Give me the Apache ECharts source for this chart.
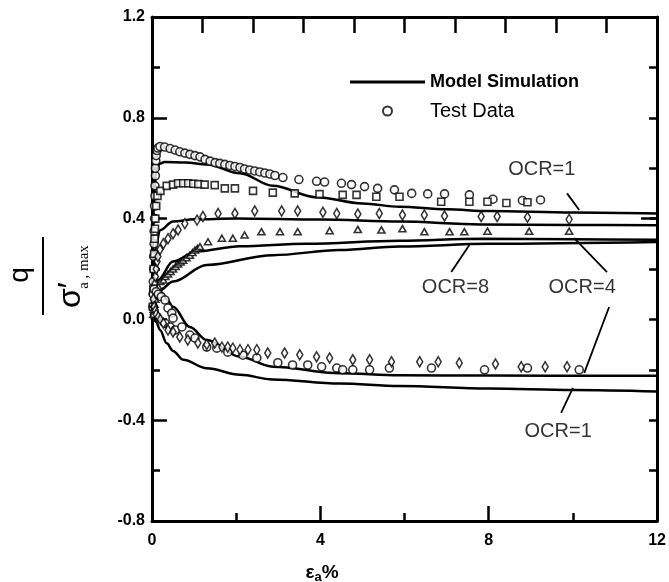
<!DOCTYPE html>
<html><head><meta charset="utf-8">
<script src="https://cdn.jsdelivr.net/npm/echarts@6/dist/echarts.min.js"></script>
<style>html,body{margin:0;padding:0;background:#fff}#c{width:669px;height:582px}</style>
</head><body><div id="c"></div>
<script>
// ---------- axis ticks ----------
const xMin = 0, xMax = 12, xStep = 4;
const yMin = -0.8, yMax = 1.2, yStep = 0.4;

// ---------- model simulation curves (x = axial strain %, y = q / sigma'a,max) ----------
const modelOCR1Comp = [[0,0],[0.02,0.3],[0.05,0.5],[0.1,0.59],[0.18,0.618],[0.3,0.625],[0.8,0.623],[1.3,0.615],[2.09,0.58],[2.87,0.53],[3.9,0.485],[5.0,0.46],[5.88,0.447],[7,0.437],[8,0.43],[10,0.424],[12,0.42]];
const modelOCR4Comp = [[0,0],[0.03,0.15],[0.08,0.28],[0.19,0.354],[0.5,0.388],[1.0,0.397],[2,0.4],[4,0.396],[5.88,0.388],[7.8,0.377],[10,0.375],[12,0.374]];
const modelOCR8Comp = [[0,0],[0.05,0.1],[0.14,0.156],[0.5,0.23],[1.07,0.27],[2.09,0.29],[3.67,0.30],[5.88,0.312],[7.8,0.32],[10,0.318],[12,0.316]];
const modelLowComp = [[0.05,0.1],[0.19,0.117],[0.5,0.15],[1.3,0.216],[2.87,0.255],[4.46,0.275],[5.88,0.289],[8,0.30],[12,0.307]];
const modelOCR4Ext = [[0.05,0.13],[0.2,0.11],[0.35,0.08],[0.5,0.05],[0.9,-0.03],[1.3,-0.082],[2.09,-0.148],[2.87,-0.188],[4.46,-0.214],[5.88,-0.222],[8,-0.223],[12,-0.224]];
const modelOCR1Ext = [[0,0.02],[0.1,-0.01],[0.19,-0.042],[0.35,-0.095],[0.5,-0.125],[0.74,-0.16],[1.3,-0.194],[2.09,-0.22],[2.87,-0.238],[4.46,-0.254],[5.88,-0.264],[8,-0.274],[10,-0.28],[12,-0.286]];
const modelOCR2Tail = [[11.62,0.40],[12,0.40]];

// ---------- test data ----------
const dataOCR1Comp = [[0.02,0.05],[0.03,0.1],[0.03,0.15],[0.04,0.2],[0.04,0.25],[0.05,0.3],[0.05,0.35],[0.06,0.4],[0.06,0.45],[0.07,0.49],[0.07,0.53],[0.08,0.57],[0.08,0.6],[0.09,0.63],[0.1,0.65],[0.12,0.67],[0.14,0.68],[0.19,0.686],[0.3,0.684],[0.43,0.678],[0.55,0.672],[0.66,0.665],[0.78,0.66],[0.9,0.655],[1.02,0.65],[1.14,0.645],[1.26,0.635],[1.38,0.628],[1.5,0.622],[1.61,0.619],[1.73,0.615],[1.85,0.611],[1.97,0.607],[2.09,0.603],[2.2,0.597],[2.32,0.593],[2.44,0.589],[2.56,0.585],[2.68,0.581],[2.8,0.577],[2.92,0.571],[3.11,0.563],[3.49,0.555],[3.91,0.548],[4.1,0.545],[4.5,0.54],[4.74,0.535],[5.05,0.527],[5.36,0.52],[5.76,0.514],[6.17,0.50],[6.55,0.498],[6.95,0.498],[7.54,0.494],[8.1,0.477],[8.8,0.472],[9.23,0.474]];
const dataOCR2Comp = [[0.02,0.05],[0.03,0.12],[0.04,0.2],[0.05,0.26],[0.06,0.32],[0.07,0.36],[0.08,0.4],[0.1,0.45],[0.13,0.49],[0.2,0.51],[0.35,0.53],[0.5,0.535],[0.62,0.54],[0.74,0.54],[0.86,0.54],[0.98,0.538],[1.1,0.537],[1.25,0.535],[1.49,0.533],[1.73,0.52],[1.97,0.52],[2.4,0.51],[2.87,0.503],[3.39,0.5],[3.98,0.497],[4.53,0.494],[4.86,0.494],[5.33,0.487],[5.88,0.487],[6.87,0.467],[7.54,0.467],[7.97,0.467],[8.42,0.462],[8.92,0.465]];
const dataOCR4Comp = [[0.03,0.02],[0.04,0.05],[0.05,0.08],[0.06,0.11],[0.07,0.14],[0.08,0.17],[0.1,0.2],[0.12,0.23],[0.14,0.25],[0.19,0.277],[0.27,0.30],[0.38,0.32],[0.5,0.34],[0.62,0.355],[0.78,0.38],[1.07,0.394],[1.21,0.408],[1.57,0.42],[1.97,0.42],[2.44,0.43],[3.08,0.43],[3.46,0.43],[4.06,0.425],[4.39,0.42],[4.89,0.418],[5.4,0.42],[5.95,0.414],[6.47,0.414],[6.95,0.41],[7.82,0.408],[8.2,0.408],[8.92,0.405],[9.91,0.397]];
const dataOCR8Comp = [[0.03,0.02],[0.04,0.04],[0.06,0.06],[0.08,0.08],[0.1,0.1],[0.12,0.115],[0.15,0.13],[0.2,0.15],[0.27,0.156],[0.32,0.17],[0.38,0.18],[0.44,0.19],[0.5,0.20],[0.56,0.21],[0.62,0.22],[0.68,0.228],[0.74,0.235],[0.82,0.245],[0.9,0.255],[0.96,0.265],[1.02,0.275],[1.08,0.282],[1.14,0.289],[1.33,0.308],[1.66,0.322],[1.92,0.322],[2.2,0.335],[2.6,0.348],[3.04,0.348],[3.46,0.348],[4.22,0.352],[4.89,0.357],[5.45,0.355],[5.95,0.36],[6.47,0.348],[7.07,0.348],[7.42,0.348],[7.97,0.35],[8.96,0.35],[9.91,0.35]];
const dataOCR1Ext = [[0.03,0.1],[0.05,0.12],[0.1,0.11],[0.15,0.1],[0.22,0.09],[0.31,0.077],[0.38,0.045],[0.47,0.025],[0.5,0.005],[0.31,-0.015],[0.43,-0.03],[0.55,-0.042],[0.71,-0.03],[0.9,-0.062],[1.02,-0.074],[1.3,-0.11],[1.54,-0.114],[1.8,-0.13],[2.16,-0.142],[2.49,-0.153],[2.99,-0.172],[3.34,-0.181],[3.7,-0.181],[4.03,-0.188],[4.39,-0.193],[4.53,-0.2],[4.77,-0.2],[5.17,-0.2],[5.64,-0.193],[6.64,-0.193],[7.9,-0.2],[8.92,-0.193],[10.15,-0.2]];
const dataOCR4Ext = [[0.03,0.08],[0.05,0.05],[0.08,0.035],[0.1,0.02],[0.15,0.01],[0.2,0.0],[0.27,-0.015],[0.38,-0.042],[0.5,-0.05],[0.66,-0.07],[0.85,-0.082],[1.09,-0.094],[1.3,-0.1],[1.49,-0.094],[1.66,-0.11],[1.8,-0.11],[1.92,-0.114],[2.09,-0.12],[2.28,-0.12],[2.49,-0.12],[2.75,-0.133],[3.15,-0.133],[3.51,-0.14],[3.91,-0.148],[4.22,-0.153],[4.77,-0.16],[5.17,-0.16],[5.69,-0.168],[6.36,-0.168],[6.8,-0.168],[7.3,-0.173],[8.16,-0.177],[8.77,-0.188],[9.34,-0.188],[9.86,-0.188]];

// ---------- annotations (data coordinates) ----------
const annoLabels = [
  {text:'OCR=1', at:[9.26,0.593]},
  {text:'OCR=8', at:[7.21,0.125]},
  {text:'OCR=4', at:[10.22,0.125]},
  {text:'OCR=1', at:[9.65,-0.446]}
];
const leaders = [
  [[9.86,0.50],[10.15,0.434]],
  [[7.11,0.188],[7.54,0.295]],
  [[10.81,0.188],[10.03,0.323]],
  [[10.86,0.049],[10.27,-0.212]],
  [[10.0,-0.272],[9.72,-0.371]]
];

const FONT = 'Arial, "Liberation Sans", sans-serif';
const chart = echarts.init(document.getElementById('c'), null, {renderer:'canvas'});

const axisLine = {show:true, onZero:false, lineStyle:{color:'#000', width:3}};
const tickStyle = {color:'#000', width:2.5};

function modelSeries(name, data){
  return {type:'line', name:name, data:data, symbol:'none', smooth:0.35, smoothMonotone:'x',
    lineStyle:{color:'#000', width:2.5}, itemStyle:{color:'#000'}, silent:true, z:3};
}
function dataSeries(name, data, symbol, size){
  return {type:'scatter', name:name, data:data, symbol:symbol, symbolSize:size,
    itemStyle:{color:'#fff', borderColor:'#000', borderWidth:1.6}, silent:true, z:4};
}

const series = [
  modelSeries('Model Simulation', modelOCR1Comp),
  modelSeries('Model Simulation', modelOCR4Comp),
  modelSeries('Model Simulation', modelOCR8Comp),
  modelSeries('Model Simulation', modelLowComp),
  modelSeries('Model Simulation', modelOCR4Ext),
  modelSeries('Model Simulation', modelOCR1Ext),
  modelSeries('Model Simulation', modelOCR2Tail),
  dataSeries('Test Data', dataOCR1Comp, 'circle', 8),
  dataSeries('OCR2', dataOCR2Comp, 'rect', 7),
  dataSeries('OCR4', dataOCR4Comp, 'diamond', [6,10]),
  dataSeries('OCR8', dataOCR8Comp, 'triangle', [7,6]),
  dataSeries('Test Data', dataOCR1Ext, 'circle', 8),
  dataSeries('OCR4e', dataOCR4Ext, 'diamond', [6,10])
];
leaders.forEach(function(seg){
  series.push({type:'line', name:'leader', data:seg, symbol:'none', silent:true,
    lineStyle:{color:'#000', width:1.8}, z:2});
});
series.push({type:'scatter', name:'labels', symbolSize:0, silent:true, z:5,
  data: annoLabels.map(function(a){ return {value:a.at, label:{formatter:a.text}}; }),
  label:{show:true, position:'inside', color:'#000', fontSize:20, fontFamily:FONT}
});

chart.setOption({
  animation:false,
  backgroundColor:'#fff',
  grid:{left:152, right:11, top:17, bottom:61, containLabel:false},
  legend:[
    {data:[{name:'Model Simulation', icon:'rect'}], left:345, top:68, itemWidth:75, itemHeight:3,
     selectedMode:false, itemStyle:{color:'#000'},
     textStyle:{color:'#000', fontSize:18, fontWeight:'bold', fontFamily:FONT}},
    {data:[{name:'Test Data', icon:'circle'}], left:377, top:96, itemWidth:75, itemHeight:9,
     selectedMode:false,
     textStyle:{color:'#000', fontSize:20, fontFamily:FONT}}
  ],
  xAxis:[
    {type:'value', min:xMin, max:xMax, interval:xStep, position:'bottom',
     axisLine:axisLine, splitLine:{show:false},
     axisTick:{show:true, inside:true, length:15, lineStyle:tickStyle},
     minorTick:{show:true, splitNumber:2, length:8, lineStyle:tickStyle},
     minorSplitLine:{show:false},
     axisLabel:{color:'#000', fontSize:16, fontWeight:'bold', fontFamily:FONT, margin:12}},
    {type:'value', min:0, max:10, interval:1, position:'top',
     axisLine:axisLine, splitLine:{show:false},
     axisTick:{show:true, inside:true, length:16, lineStyle:tickStyle},
     axisLabel:{show:false}}
  ],
  yAxis:[
    {type:'value', min:yMin, max:yMax, interval:yStep, position:'left',
     axisLine:axisLine, splitLine:{show:false},
     axisTick:{show:true, inside:true, length:15, lineStyle:tickStyle},
     minorTick:{show:true, splitNumber:2, length:8, lineStyle:tickStyle},
     minorSplitLine:{show:false},
     axisLabel:{color:'#000', fontSize:16, fontWeight:'bold', fontFamily:FONT, margin:7,
       formatter:function(v){ return v.toFixed(1); }}},
    {type:'value', min:yMin, max:yMax, interval:0.2, position:'right',
     axisLine:axisLine, splitLine:{show:false},
     axisTick:{show:true, inside:true, length:8, lineStyle:tickStyle},
     axisLabel:{show:false}}
  ],
  series:series,
  graphic:[
    {type:'text', x:322, y:573, z:10, style:{
      text:'{e|ε}{s|a}{p|%}', textAlign:'center', textVerticalAlign:'middle',
      rich:{e:{fontSize:19, fontWeight:'bold', fontFamily:FONT, fill:'#000'},
            s:{fontSize:13, fontWeight:'bold', fontFamily:FONT, fill:'#000', padding:[9,0,0,0]},
            p:{fontSize:19, fontWeight:'bold', fontFamily:FONT, fill:'#000'}}}},
    {type:'text', x:20, y:275, rotation:Math.PI/2, z:10, style:{
      text:'q', font:'28px ' + FONT, textAlign:'center', textVerticalAlign:'middle', fill:'#000'}},
    {type:'line', z:10, shape:{x1:43, y1:237, x2:43, y2:315}, style:{stroke:'#000', lineWidth:2}},
    {type:'text', x:71, y:295, rotation:Math.PI/2, z:10, style:{
      text:'σ′', font:'32px ' + FONT, textAlign:'center', textVerticalAlign:'middle', fill:'#000'}},
    {type:'text', x:84, y:267, rotation:Math.PI/2, z:10, style:{
      text:'a , max', font:'15px "Liberation Serif", "Times New Roman", serif', textAlign:'center', textVerticalAlign:'middle', fill:'#000'}}
  ]
});
</script>
</body></html>
